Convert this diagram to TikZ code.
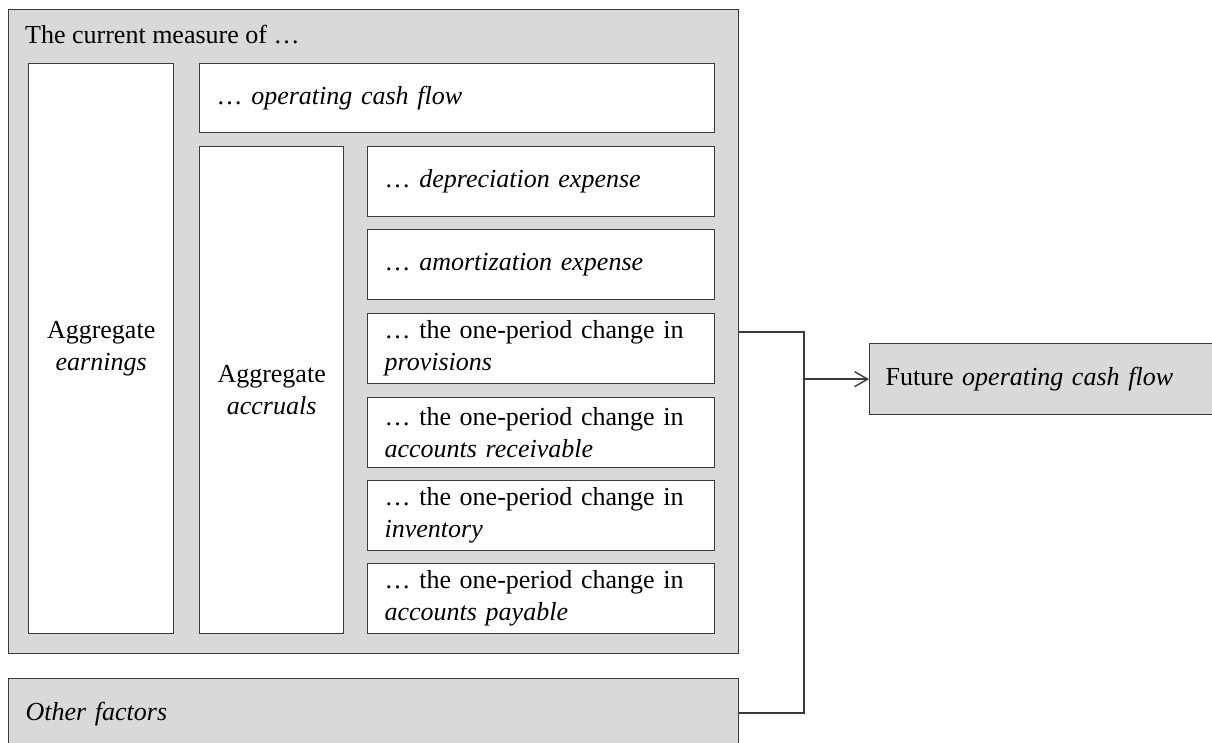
\documentclass[tikz,border=0pt]{standalone}
\usepackage{fontspec}
\setmainfont{Liberation Serif}
\usetikzlibrary{arrows.meta}
\definecolor{panelgray}{HTML}{D9D9D9}
\definecolor{edgegray}{HTML}{3A3A3A}
\begin{document}
\begin{tikzpicture}[x=1pt, y=-1pt,
  font=\fontsize{26}{32}\selectfont,
  panel/.style={draw=edgegray, fill=panelgray, line width=1.3pt, anchor=north west},
  cell/.style={draw=edgegray, fill=white, line width=1.3pt, anchor=north west},
  itemcell/.style={cell, minimum height=70pt, text width=313pt, inner xsep=17pt, inner ysep=0pt, align=left},
  link/.style={draw=edgegray, line width=1.4pt}]
\useasboundingbox (0,0) rectangle (1212,742);
\clip (0,0) rectangle (1212,742);

% outer panel with the current measures
\node[panel, minimum width=730pt, minimum height=644pt] (current) at (8,9) {};
\node[anchor=base west, inner sep=0pt] (title) at (25,43) {The current measure of …};

% aggregate columns
\node[cell, minimum width=145pt, minimum height=570pt, align=center] (earn) at (28,63) {Aggregate\\\textit{earnings}};
\node[cell, minimum width=515pt, minimum height=69pt, text width=481pt, inner xsep=17pt, align=left] (ocf) at (199,63) {… \textit{operating cash flow}};
\node[cell, minimum width=144pt, minimum height=487pt, align=center] (accr) at (199,146) {Aggregate\\\textit{accruals}};

% accrual components
\node[itemcell] (dep)  at (367,146) {… \textit{depreciation expense}};
\node[itemcell] (amo)  at (367,229) {… \textit{amortization expense}};
\node[itemcell] (prov) at (367,313) {… the one-period change in\\\textit{provisions}};
\node[itemcell] (rec)  at (367,397) {… the one-period change in\\\textit{accounts receivable}};
\node[itemcell] (inv)  at (367,480) {… the one-period change in\\\textit{inventory}};
\node[itemcell] (pay)  at (367,563) {… the one-period change in\\\textit{accounts payable}};

% other factors
\node[panel, minimum width=730pt, minimum height=70pt, text width=696pt, inner xsep=17pt, align=left] (others) at (8,678) {\textit{Other factors}};

% outcome
\node[panel, minimum width=360pt, minimum height=71pt, text width=328pt, inner xsep=16pt, align=left] (future) at (869,343) {Future \textit{operating cash flow}};

% connectors
\coordinate (j1) at (804,332);
\coordinate (j2) at (804,713);
\draw[link] (current.east |- j1) -- (j1) -- (j2) -- (others.east |- j2);
\draw[link, -{Straight Barb[length=13pt, width=15pt]}] (j1 |- future.west) -- (future.west);
\end{tikzpicture}
\end{document}
